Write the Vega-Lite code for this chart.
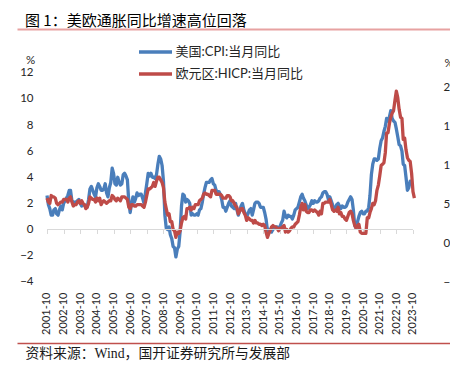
{
"$schema": "https://vega.github.io/schema/vega-lite/v6.json",
"width": 433, "height": 314,
"autosize": "none",
"padding": {"left": 17, "top": 29, "right": 0, "bottom": 24},
"background": "white",
"config": {"view": {"stroke": null}, "axis": {"grid": false}},
"title": {"text": "图 1：美欧通胀同比增速高位回落", "anchor": "start", "frame": "group", "dx": 8, "dy": 4, "font": "Noto Sans CJK SC", "fontSize": 15, "fontWeight": "normal", "color": "#000000"},
"layer": [
{
"data": {"values": [
{"d":"2001-10","u":2.6,"e":2.4},{"d":"2001-11","u":1.9,"e":2.1},{"d":"2001-12","u":1.6,"e":2.0},
{"d":"2002-01","u":1.1,"e":2.6},{"d":"2002-02","u":1.1,"e":2.5},{"d":"2002-03","u":1.5,"e":2.5},{"d":"2002-04","u":1.6,"e":2.4},{"d":"2002-05","u":1.2,"e":2.0},{"d":"2002-06","u":1.1,"e":1.9},{"d":"2002-07","u":1.5,"e":2.0},{"d":"2002-08","u":1.8,"e":2.1},{"d":"2002-09","u":1.5,"e":2.1},{"d":"2002-10","u":2.0,"e":2.3},{"d":"2002-11","u":2.2,"e":2.3},{"d":"2002-12","u":2.4,"e":2.3},
{"d":"2003-01","u":2.6,"e":2.1},{"d":"2003-02","u":3.0,"e":2.4},{"d":"2003-03","u":3.0,"e":2.5},{"d":"2003-04","u":2.2,"e":2.1},{"d":"2003-05","u":2.1,"e":1.8},{"d":"2003-06","u":2.1,"e":1.9},{"d":"2003-07","u":2.1,"e":1.9},{"d":"2003-08","u":2.2,"e":2.1},{"d":"2003-09","u":2.3,"e":2.2},{"d":"2003-10","u":2.0,"e":2.0},{"d":"2003-11","u":1.8,"e":2.2},{"d":"2003-12","u":1.9,"e":2.0},
{"d":"2004-01","u":1.9,"e":1.9},{"d":"2004-02","u":1.7,"e":1.6},{"d":"2004-03","u":1.7,"e":1.7},{"d":"2004-04","u":2.3,"e":2.0},{"d":"2004-05","u":3.1,"e":2.5},{"d":"2004-06","u":3.3,"e":2.4},{"d":"2004-07","u":3.0,"e":2.3},{"d":"2004-08","u":2.7,"e":2.3},{"d":"2004-09","u":2.5,"e":2.1},{"d":"2004-10","u":3.2,"e":2.4},{"d":"2004-11","u":3.5,"e":2.2},{"d":"2004-12","u":3.3,"e":2.4},
{"d":"2005-01","u":3.0,"e":1.9},{"d":"2005-02","u":3.0,"e":2.1},{"d":"2005-03","u":3.1,"e":2.2},{"d":"2005-04","u":3.5,"e":2.1},{"d":"2005-05","u":2.8,"e":2.0},{"d":"2005-06","u":2.5,"e":2.1},{"d":"2005-07","u":3.2,"e":2.2},{"d":"2005-08","u":3.6,"e":2.2},{"d":"2005-09","u":4.7,"e":2.6},{"d":"2005-10","u":4.3,"e":2.5},{"d":"2005-11","u":3.5,"e":2.3},{"d":"2005-12","u":3.4,"e":2.2},
{"d":"2006-01","u":4.0,"e":2.4},{"d":"2006-02","u":3.6,"e":2.3},{"d":"2006-03","u":3.4,"e":2.2},{"d":"2006-04","u":3.5,"e":2.5},{"d":"2006-05","u":4.2,"e":2.5},{"d":"2006-06","u":4.3,"e":2.5},{"d":"2006-07","u":4.1,"e":2.4},{"d":"2006-08","u":3.8,"e":2.3},{"d":"2006-09","u":2.1,"e":1.7},{"d":"2006-10","u":1.3,"e":1.6},{"d":"2006-11","u":2.0,"e":1.9},{"d":"2006-12","u":2.5,"e":1.9},
{"d":"2007-01","u":2.1,"e":1.8},{"d":"2007-02","u":2.4,"e":1.8},{"d":"2007-03","u":2.8,"e":1.9},{"d":"2007-04","u":2.6,"e":1.9},{"d":"2007-05","u":2.7,"e":1.9},{"d":"2007-06","u":2.7,"e":1.9},{"d":"2007-07","u":2.4,"e":1.8},{"d":"2007-08","u":2.0,"e":1.7},{"d":"2007-09","u":2.8,"e":2.1},{"d":"2007-10","u":3.5,"e":2.6},{"d":"2007-11","u":4.3,"e":3.1},{"d":"2007-12","u":4.1,"e":3.1},
{"d":"2008-01","u":4.3,"e":3.2},{"d":"2008-02","u":4.0,"e":3.3},{"d":"2008-03","u":4.0,"e":3.6},{"d":"2008-04","u":3.9,"e":3.3},{"d":"2008-05","u":4.2,"e":3.7},{"d":"2008-06","u":5.0,"e":4.0},{"d":"2008-07","u":5.6,"e":4.0},{"d":"2008-08","u":5.4,"e":3.8},{"d":"2008-09","u":4.9,"e":3.6},{"d":"2008-10","u":3.7,"e":3.2},{"d":"2008-11","u":1.1,"e":2.1},{"d":"2008-12","u":0.1,"e":1.6},
{"d":"2009-01","u":0.0,"e":1.1},{"d":"2009-02","u":0.2,"e":1.2},{"d":"2009-03","u":-0.4,"e":0.6},{"d":"2009-04","u":-0.7,"e":0.6},{"d":"2009-05","u":-1.3,"e":0.0},{"d":"2009-06","u":-1.4,"e":-0.1},{"d":"2009-07","u":-2.1,"e":-0.6},{"d":"2009-08","u":-1.5,"e":-0.2},{"d":"2009-09","u":-1.3,"e":-0.3},{"d":"2009-10","u":-0.2,"e":-0.1},{"d":"2009-11","u":1.8,"e":0.5},{"d":"2009-12","u":2.7,"e":0.9},
{"d":"2010-01","u":2.6,"e":1.0},{"d":"2010-02","u":2.1,"e":0.8},{"d":"2010-03","u":2.3,"e":1.6},{"d":"2010-04","u":2.2,"e":1.6},{"d":"2010-05","u":2.0,"e":1.7},{"d":"2010-06","u":1.1,"e":1.5},{"d":"2010-07","u":1.2,"e":1.7},{"d":"2010-08","u":1.1,"e":1.6},{"d":"2010-09","u":1.1,"e":1.9},{"d":"2010-10","u":1.2,"e":1.9},{"d":"2010-11","u":1.1,"e":1.9},{"d":"2010-12","u":1.5,"e":2.2},
{"d":"2011-01","u":1.6,"e":2.3},{"d":"2011-02","u":2.1,"e":2.4},{"d":"2011-03","u":2.7,"e":2.7},{"d":"2011-04","u":3.2,"e":2.8},{"d":"2011-05","u":3.6,"e":2.7},{"d":"2011-06","u":3.6,"e":2.7},{"d":"2011-07","u":3.6,"e":2.6},{"d":"2011-08","u":3.8,"e":2.5},{"d":"2011-09","u":3.9,"e":3.0},{"d":"2011-10","u":3.5,"e":3.0},{"d":"2011-11","u":3.4,"e":3.0},{"d":"2011-12","u":3.0,"e":2.7},
{"d":"2012-01","u":2.9,"e":2.7},{"d":"2012-02","u":2.9,"e":2.7},{"d":"2012-03","u":2.7,"e":2.7},{"d":"2012-04","u":2.3,"e":2.6},{"d":"2012-05","u":1.7,"e":2.4},{"d":"2012-06","u":1.7,"e":2.4},{"d":"2012-07","u":1.4,"e":2.4},{"d":"2012-08","u":1.7,"e":2.6},{"d":"2012-09","u":2.0,"e":2.6},{"d":"2012-10","u":2.2,"e":2.5},{"d":"2012-11","u":1.8,"e":2.2},{"d":"2012-12","u":1.7,"e":2.2},
{"d":"2013-01","u":1.6,"e":2.0},{"d":"2013-02","u":2.0,"e":1.8},{"d":"2013-03","u":1.5,"e":1.7},{"d":"2013-04","u":1.1,"e":1.2},{"d":"2013-05","u":1.4,"e":1.4},{"d":"2013-06","u":1.8,"e":1.6},{"d":"2013-07","u":2.0,"e":1.6},{"d":"2013-08","u":1.5,"e":1.3},{"d":"2013-09","u":1.2,"e":1.1},{"d":"2013-10","u":1.0,"e":0.7},{"d":"2013-11","u":1.2,"e":0.9},{"d":"2013-12","u":1.5,"e":0.8},
{"d":"2014-01","u":1.6,"e":0.7},{"d":"2014-02","u":1.1,"e":0.7},{"d":"2014-03","u":1.5,"e":0.5},{"d":"2014-04","u":2.0,"e":0.7},{"d":"2014-05","u":2.1,"e":0.5},{"d":"2014-06","u":2.1,"e":0.5},{"d":"2014-07","u":2.0,"e":0.4},{"d":"2014-08","u":1.7,"e":0.4},{"d":"2014-09","u":1.7,"e":0.3},{"d":"2014-10","u":1.7,"e":0.4},{"d":"2014-11","u":1.3,"e":0.3},{"d":"2014-12","u":0.8,"e":-0.2},
{"d":"2015-01","u":-0.1,"e":-0.6},{"d":"2015-02","u":0.0,"e":-0.3},{"d":"2015-03","u":-0.1,"e":-0.1},{"d":"2015-04","u":-0.2,"e":0.2},{"d":"2015-05","u":0.0,"e":0.3},{"d":"2015-06","u":0.1,"e":0.2},{"d":"2015-07","u":0.2,"e":0.2},{"d":"2015-08","u":0.2,"e":0.1},{"d":"2015-09","u":0.0,"e":-0.1},{"d":"2015-10","u":0.2,"e":0.1},{"d":"2015-11","u":0.5,"e":0.1},{"d":"2015-12","u":0.7,"e":0.2},
{"d":"2016-01","u":1.4,"e":0.3},{"d":"2016-02","u":1.0,"e":-0.2},{"d":"2016-03","u":0.9,"e":0.0},{"d":"2016-04","u":1.1,"e":-0.2},{"d":"2016-05","u":1.0,"e":-0.1},{"d":"2016-06","u":1.0,"e":0.1},{"d":"2016-07","u":0.8,"e":0.2},{"d":"2016-08","u":1.1,"e":0.2},{"d":"2016-09","u":1.5,"e":0.4},{"d":"2016-10","u":1.6,"e":0.5},{"d":"2016-11","u":1.7,"e":0.6},{"d":"2016-12","u":2.1,"e":1.1},
{"d":"2017-01","u":2.5,"e":1.7},{"d":"2017-02","u":2.7,"e":2.0},{"d":"2017-03","u":2.4,"e":1.5},{"d":"2017-04","u":2.2,"e":1.9},{"d":"2017-05","u":1.9,"e":1.4},{"d":"2017-06","u":1.6,"e":1.3},{"d":"2017-07","u":1.7,"e":1.3},{"d":"2017-08","u":1.9,"e":1.5},{"d":"2017-09","u":2.2,"e":1.5},{"d":"2017-10","u":2.0,"e":1.4},{"d":"2017-11","u":2.2,"e":1.5},{"d":"2017-12","u":2.1,"e":1.4},
{"d":"2018-01","u":2.1,"e":1.3},{"d":"2018-02","u":2.2,"e":1.1},{"d":"2018-03","u":2.4,"e":1.4},{"d":"2018-04","u":2.5,"e":1.2},{"d":"2018-05","u":2.8,"e":2.0},{"d":"2018-06","u":2.9,"e":2.0},{"d":"2018-07","u":2.9,"e":2.1},{"d":"2018-08","u":2.7,"e":2.1},{"d":"2018-09","u":2.3,"e":2.1},{"d":"2018-10","u":2.5,"e":2.3},{"d":"2018-11","u":2.2,"e":1.9},{"d":"2018-12","u":1.9,"e":1.5},
{"d":"2019-01","u":1.6,"e":1.4},{"d":"2019-02","u":1.5,"e":1.5},{"d":"2019-03","u":1.9,"e":1.4},{"d":"2019-04","u":2.0,"e":1.7},{"d":"2019-05","u":1.8,"e":1.2},{"d":"2019-06","u":1.6,"e":1.3},{"d":"2019-07","u":1.8,"e":1.0},{"d":"2019-08","u":1.7,"e":1.0},{"d":"2019-09","u":1.7,"e":0.8},{"d":"2019-10","u":1.8,"e":0.7},{"d":"2019-11","u":2.1,"e":1.0},{"d":"2019-12","u":2.3,"e":1.3},
{"d":"2020-01","u":2.5,"e":1.4},{"d":"2020-02","u":2.3,"e":1.2},{"d":"2020-03","u":1.5,"e":0.7},{"d":"2020-04","u":0.3,"e":0.3},{"d":"2020-05","u":0.1,"e":0.1},{"d":"2020-06","u":0.6,"e":0.3},{"d":"2020-07","u":1.0,"e":0.4},{"d":"2020-08","u":1.3,"e":-0.2},{"d":"2020-09","u":1.4,"e":-0.3},{"d":"2020-10","u":1.2,"e":-0.3},{"d":"2020-11","u":1.2,"e":-0.3},{"d":"2020-12","u":1.4,"e":-0.3},
{"d":"2021-01","u":1.4,"e":0.9},{"d":"2021-02","u":1.7,"e":0.9},{"d":"2021-03","u":2.6,"e":1.3},{"d":"2021-04","u":4.2,"e":1.6},{"d":"2021-05","u":5.0,"e":2.0},{"d":"2021-06","u":5.4,"e":1.9},{"d":"2021-07","u":5.4,"e":2.2},{"d":"2021-08","u":5.3,"e":3.0},{"d":"2021-09","u":5.4,"e":3.4},{"d":"2021-10","u":6.2,"e":4.1},{"d":"2021-11","u":6.8,"e":4.9},{"d":"2021-12","u":7.0,"e":5.0},
{"d":"2022-01","u":7.5,"e":5.1},{"d":"2022-02","u":7.9,"e":5.9},{"d":"2022-03","u":8.5,"e":7.4},{"d":"2022-04","u":8.3,"e":7.4},{"d":"2022-05","u":8.6,"e":8.1},{"d":"2022-06","u":9.1,"e":8.6},{"d":"2022-07","u":8.5,"e":8.9},{"d":"2022-08","u":8.3,"e":9.1},{"d":"2022-09","u":8.2,"e":9.9},{"d":"2022-10","u":7.7,"e":10.6},{"d":"2022-11","u":7.1,"e":10.1},{"d":"2022-12","u":6.5,"e":9.2},
{"d":"2023-01","u":6.4,"e":8.6},{"d":"2023-02","u":6.0,"e":8.5},{"d":"2023-03","u":5.0,"e":6.9},{"d":"2023-04","u":4.9,"e":7.0},{"d":"2023-05","u":4.0,"e":6.1},{"d":"2023-06","u":3.0,"e":5.5},{"d":"2023-07","u":3.2,"e":5.3},{"d":"2023-08","u":3.7,"e":5.2},{"d":"2023-09","u":3.7,"e":4.3},{"d":"2023-10","u":null,"e":2.9},{"d":"2023-11","u":null,"e":2.4}
]},
"transform": [{"fold": ["u", "e"], "as": ["s", "v"]}],
"mark": {"type": "line", "strokeWidth": 3.3, "strokeJoin": "round"},
"encoding": {
"x": {"field": "d", "type": "temporal",
 "scale": {"type": "utc", "domain": [944987040000, 1766352960000]},
 "axis": {"orient": "bottom", "offset": -61, "format": "%Y-%m", "labelAngle": 270, "labelPadding": 10, "domain": false, "ticks": false, "tickSize": 0,
  "labelFont": "Lato", "labelFontSize": 11, "labelColor": "#262626", "labelOverlap": false, "labelFlush": false,
  "values": [{"year":2001,"month":10,"date":1,"utc":true},{"year":2002,"month":10,"date":1,"utc":true},{"year":2003,"month":10,"date":1,"utc":true},{"year":2004,"month":10,"date":1,"utc":true},{"year":2005,"month":10,"date":1,"utc":true},{"year":2006,"month":10,"date":1,"utc":true},{"year":2007,"month":10,"date":1,"utc":true},{"year":2008,"month":10,"date":1,"utc":true},{"year":2009,"month":10,"date":1,"utc":true},{"year":2010,"month":10,"date":1,"utc":true},{"year":2011,"month":10,"date":1,"utc":true},{"year":2012,"month":10,"date":1,"utc":true},{"year":2013,"month":10,"date":1,"utc":true},{"year":2014,"month":10,"date":1,"utc":true},{"year":2015,"month":10,"date":1,"utc":true},{"year":2016,"month":10,"date":1,"utc":true},{"year":2017,"month":10,"date":1,"utc":true},{"year":2018,"month":10,"date":1,"utc":true},{"year":2019,"month":10,"date":1,"utc":true},{"year":2020,"month":10,"date":1,"utc":true},{"year":2021,"month":10,"date":1,"utc":true},{"year":2022,"month":10,"date":1,"utc":true},{"year":2023,"month":10,"date":1,"utc":true}],
  "title": "资料来源：Wind，国开证券研究所与发展部", "titleFont": "Liberation Serif, Noto Sans CJK SC", "titleFontSize": 13.8, "titleFontWeight": "normal", "titleColor": "#1a1a1a",
  "titleAnchor": "start", "titleAlign": "left", "titleBaseline": "middle", "titleX": 8, "titleY": 71}},
"y": {"field": "v", "type": "quantitative",
 "scale": {"domain": [-8.69, 15.35], "nice": false, "zero": false},
 "axis": {"orient": "left", "offset": -30, "values": [-4, -2, 0, 2, 4, 6, 8, 10, 12], "labelOverlap": false, "domain": false, "ticks": false, "labelPadding": 14,
  "labelFont": "Lato", "labelFontSize": 11.5, "labelColor": "#262626",
  "title": "%", "titleAngle": 0, "titleFont": "Lato", "titleFontSize": 11.5, "titleFontWeight": "normal", "titleColor": "#262626", "titleAlign": "center", "titleBaseline": "middle", "titleX": -17, "titleY": 31}},
"color": {"field": "s", "type": "nominal",
 "scale": {"domain": ["u", "e"], "range": ["#4A7EBB", "#BE4B48"]},
 "legend": {"orient": "none", "legendX": 126.5, "legendY": 11, "title": null, "direction": "vertical",
  "symbolType": "M-1.65,0H1.65", "symbolSize": 400, "symbolStrokeWidth": 3.4, "labelOffset": 8, "rowPadding": 3,
  "labelFont": "Lato, Noto Sans CJK SC", "labelFontSize": 13, "labelColor": "#262626",
  "labelExpr": "datum.value == 'u' ? '美国:CPI:当月同比' : '欧元区:HICP:当月同比'"}}
}
},
{
"data": {"values": [{}]},
"mark": {"type": "rule", "strokeWidth": 1, "color": "#D9D9D9"},
"encoding": {
 "x": {"datum": 1001894400000, "type": "temporal",
  "scale": {"type": "utc", "domain": [944987040000, 1766352960000]},
  "axis": {"orient": "bottom", "offset": -113.5, "labels": false, "domain": false, "ticks": true, "tickColor": "#D9D9D9", "tickSize": 4, "title": null,
   "values": [{"year":2001,"month":10,"date":1,"utc":true},{"year":2002,"month":10,"date":1,"utc":true},{"year":2003,"month":10,"date":1,"utc":true},{"year":2004,"month":10,"date":1,"utc":true},{"year":2005,"month":10,"date":1,"utc":true},{"year":2006,"month":10,"date":1,"utc":true},{"year":2007,"month":10,"date":1,"utc":true},{"year":2008,"month":10,"date":1,"utc":true},{"year":2009,"month":10,"date":1,"utc":true},{"year":2010,"month":10,"date":1,"utc":true},{"year":2011,"month":10,"date":1,"utc":true},{"year":2012,"month":10,"date":1,"utc":true},{"year":2013,"month":10,"date":1,"utc":true},{"year":2014,"month":10,"date":1,"utc":true},{"year":2015,"month":10,"date":1,"utc":true},{"year":2016,"month":10,"date":1,"utc":true},{"year":2017,"month":10,"date":1,"utc":true},{"year":2018,"month":10,"date":1,"utc":true},{"year":2019,"month":10,"date":1,"utc":true},{"year":2020,"month":10,"date":1,"utc":true},{"year":2021,"month":10,"date":1,"utc":true},{"year":2022,"month":10,"date":1,"utc":true},{"year":2023,"month":10,"date":1,"utc":true}]}},
 "x2": {"datum": 1696118400000},
 "y": {"datum": 0, "type": "quantitative", "scale": {"domain": [-8.69, 15.35], "nice": false, "zero": false}, "axis": null}
}
},
{
"data": {"values": [{}]},
"mark": {"type": "rule", "opacity": 0},
"encoding": {
 "x": {"datum": 1104537600000, "type": "temporal",
  "axis": {"orient": "top", "offset": 0, "labels": false, "ticks": false, "domain": true, "domainColor": "#E7A2A1", "domainWidth": 2.2, "title": null, "values": []}}
}
},
{
"data": {"values": [{}]},
"mark": {"type": "rule", "opacity": 0},
"encoding": {
 "x": {"datum": 1104537600000, "type": "temporal",
  "axis": {"orient": "bottom", "offset": 0, "labels": false, "ticks": false, "domain": true, "domainColor": "#C0504D", "domainWidth": 1.3, "title": null, "values": []}}
}
},
{
"data": {"values": [{}]},
"mark": {"type": "rule", "opacity": 0},
"encoding": {
 "y": {"datum": 0, "type": "quantitative",
  "scale": {"domain": [-12.86, 27.6], "nice": false, "zero": false},
  "axis": {"orient": "right", "offset": -9, "values": [-5, 0, 5, 10, 15, 20], "labelOverlap": false, "domain": false, "ticks": false, "labelPadding": 2, "labelAlign": "left",
   "labelFont": "Lato", "labelFontSize": 11.5, "labelColor": "#262626",
   "title": "%", "titleAngle": 0, "titleFont": "Lato", "titleFontSize": 11.5, "titleFontWeight": "normal", "titleColor": "#262626", "titleAlign": "left", "titleBaseline": "middle", "titleX": 3, "titleY": 34}}
}
}
],
"resolve": {"scale": {"y": "independent"}, "axis": {"x": "independent"}}
}
